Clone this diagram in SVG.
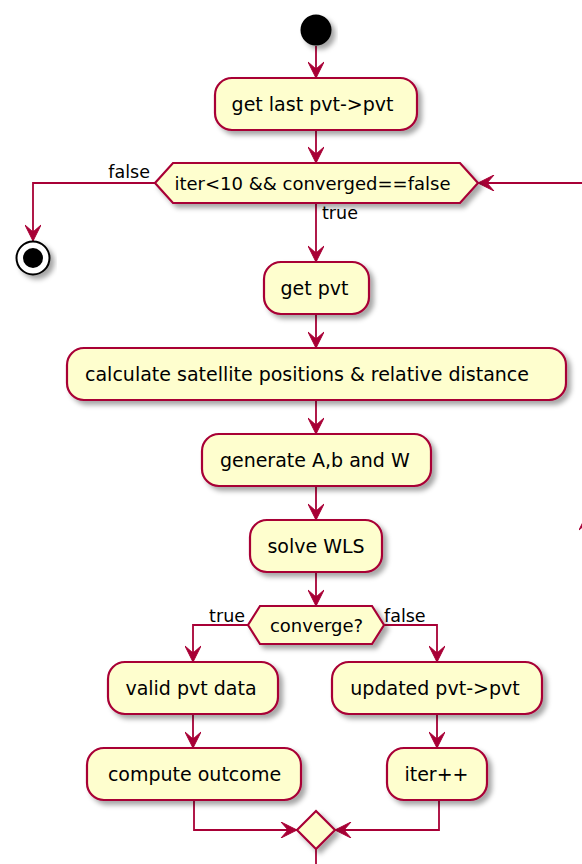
<svg xmlns="http://www.w3.org/2000/svg" width="582" height="864" viewBox="0 0 582 864">
  <defs>
    <filter id="shadow" x="-20%" y="-30%" width="140%" height="170%">
      <feDropShadow dx="4" dy="4" stdDeviation="2.5" flood-color="#000" flood-opacity="0.35"/>
    </filter>
    <marker id="arrow" viewBox="0 0 18 16" refX="17" refY="8" markerWidth="18" markerHeight="16" markerUnits="userSpaceOnUse" orient="auto">
      <path d="M1,0 L17,8 L1,16 L8,8 Z" fill="#A80036" stroke="#A80036" stroke-width="1" stroke-linejoin="miter"/>
    </marker>
  </defs>
  <style>
    .act { fill: #FEFECE; stroke: #A80036; stroke-width: 2.2; filter: url(#shadow); }
    .edge { fill: none; stroke: #A80036; stroke-width: 1.8; marker-end: url(#arrow); }
    .plain { fill: none; stroke: #A80036; stroke-width: 1.8; }
    .t { font-family: "DejaVu Sans", Verdana, sans-serif; font-size: 19px; fill: #000; text-anchor: middle; }
    .ht { font-family: "DejaVu Sans", Verdana, sans-serif; font-size: 18px; fill: #000; text-anchor: middle; }
    .lbl { font-family: "DejaVu Sans", Verdana, sans-serif; font-size: 17.5px; fill: #000; }
  </style>

  <rect width="582" height="864" fill="#FFFFFF"/>

  <!-- connectors -->
  <g id="connectors">
    <path class="edge" d="M316,46 L316,78"/>
    <path class="edge" d="M316,130 L316,163"/>
    <path class="edge" d="M155,183 L33,183 L33,241"/>
    <path class="edge" d="M316,203 L316,262"/>
    <path class="edge" d="M316,314 L316,348"/>
    <path class="edge" d="M316,400 L316,434"/>
    <path class="edge" d="M316,486 L316,520"/>
    <path class="edge" d="M316,572 L316,606"/>
    <path class="edge" d="M248,625 L193,625 L193,662"/>
    <path class="edge" d="M384,625 L437,625 L437,662"/>
    <path class="edge" d="M193,714 L193,748"/>
    <path class="edge" d="M437,714 L437,748"/>
    <path class="edge" d="M194,800 L194,830 L297,830"/>
    <path class="edge" d="M439,800 L439,830 L335,830"/>
    <path class="plain" d="M316,849 L316,864"/>
    <!-- loop back to the while test -->
    <path class="edge" d="M587,870 L587,514"/>
    <path class="edge" d="M587,514 L587,183 L478,183"/>
    <text class="lbl" x="150" y="178" text-anchor="end">false</text>
    <text class="lbl" x="322" y="219">true</text>
    <text class="lbl" x="245" y="622" text-anchor="end">true</text>
    <text class="lbl" x="384" y="622">false</text>
  </g>

  <!-- nodes -->
  <g id="start">
    <circle cx="316" cy="30" r="15.5" fill="#000" filter="url(#shadow)"/>
  </g>

  <g id="get-last-pvt">
    <rect class="act" x="215" y="78" width="202" height="52" rx="17"/>
    <text class="t" x="312.5" y="111">get last pvt-&gt;pvt</text>
  </g>

  <g id="while-test">
    <polygon class="act" points="155,183 173,163 460,163 478,183 460,203 173,203"/>
    <text class="ht" x="312.5" y="189.5">iter&lt;10 &amp;&amp; converged==false</text>
  </g>

  <g id="end">
    <circle cx="33" cy="258" r="16.5" fill="#FFFFFF" stroke="#000" stroke-width="2" filter="url(#shadow)"/>
    <circle cx="33" cy="258" r="10" fill="#000"/>
  </g>

  <g id="get-pvt">
    <rect class="act" x="264" y="262" width="105" height="52" rx="17"/>
    <text class="t" x="314.5" y="295">get pvt</text>
  </g>

  <g id="calc-positions">
    <rect class="act" x="67" y="348" width="499" height="52" rx="17"/>
    <text class="t" x="307" y="381">calculate satellite positions &amp; relative distance</text>
  </g>

  <g id="generate-abw">
    <rect class="act" x="202" y="434" width="229" height="52" rx="17"/>
    <text class="t" x="314.8" y="467">generate A,b and W</text>
  </g>

  <g id="solve-wls">
    <rect class="act" x="250" y="520" width="132" height="52" rx="17"/>
    <text class="t" x="316" y="553">solve WLS</text>
  </g>

  <g id="converge-test">
    <polygon class="act" points="248,625 260,606 372,606 384,625 372,644 260,644"/>
    <text class="ht" x="316.5" y="631.5">converge?</text>
  </g>

  <g id="valid-pvt">
    <rect class="act" x="108" y="662" width="170" height="52" rx="17"/>
    <text class="t" x="191" y="695">valid pvt data</text>
  </g>

  <g id="updated-pvt">
    <rect class="act" x="332" y="662" width="210" height="52" rx="17"/>
    <text class="t" x="435" y="695">updated pvt-&gt;pvt</text>
  </g>

  <g id="compute-outcome">
    <rect class="act" x="87" y="748" width="214" height="52" rx="17"/>
    <text class="t" x="194.5" y="781">compute outcome</text>
  </g>

  <g id="iter-inc">
    <rect class="act" x="387" y="748" width="100" height="52" rx="17"/>
    <text class="t" x="436.5" y="781">iter++</text>
  </g>

  <g id="merge">
    <polygon class="act" points="316,811 335,830 316,849 297,830"/>
  </g>
</svg>
